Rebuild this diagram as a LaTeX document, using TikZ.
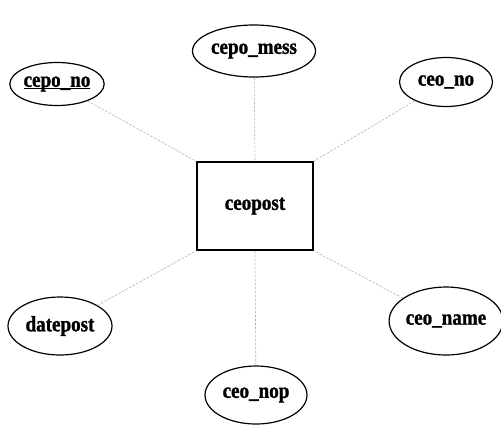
\documentclass[tikz,border=0pt]{standalone}
\usepackage{fontspec}
\setmainfont{Liberation Serif}
\newfontfamily\lblfont{Liberation Serif}[FakeStretch=0.87, BoldFeatures={FakeStretch=0.87, FakeBold=1.3}]
\usetikzlibrary{shapes.geometric}
% underline for key attributes, set close to the baseline
\newcommand\keyline[1]{\setbox0\hbox{#1}\rlap{\rule[-2.6bp]{\wd0}{1.3bp}}\box0}
\begin{document}
\begin{tikzpicture}[x=1bp,y=-1bp,
  attr/.style={ellipse, draw=black, line width=1.2bp, inner sep=0pt,
    font=\lblfont\bfseries\fontsize{22}{24}\selectfont},
  entity/.style={rectangle, draw=black, line width=1.6bp, inner sep=0pt,
    minimum width=116bp, minimum height=88bp,
    font=\lblfont\bfseries\fontsize{22}{24}\selectfont},
  link/.style={draw=gray!60, line width=0.6bp, dash pattern=on 2.5bp off 1.5bp}]
  \useasboundingbox (0,0) rectangle (501,425);

  % entity
  \node[entity] (ent) at (255,206) {ceopost};

  % attributes
  \node[attr, minimum width=94bp, minimum height=43bp] (cepono) at (57,84) {\keyline{cepo\_no}};
  \node[attr, minimum width=123bp, minimum height=52bp] (cepomess) at (254,51) {cepo\_mess};
  \node[attr, minimum width=93bp, minimum height=49bp] (ceono) at (446,82) {ceo\_no};
  \node[attr, minimum width=104bp, minimum height=58bp] (datepost) at (60,326) {datepost};
  \node[attr, minimum width=108bp, minimum height=68bp] (ceoname) at (446,321) {ceo\_name};
  \node[attr, minimum width=102bp, minimum height=58bp] (ceonop) at (256,395) {ceo\_nop};

  % links
  \draw[link] (cepono) -- (ent.north west);
  \draw[link] (cepomess) -- (ent.north);
  \draw[link] (ceono) -- (ent.north east);
  \draw[link] (datepost) -- (ent.south west);
  \draw[link] (ceonop) -- (ent.south);
  \draw[link] (ceoname) -- (ent.south east);
\end{tikzpicture}
\end{document}
